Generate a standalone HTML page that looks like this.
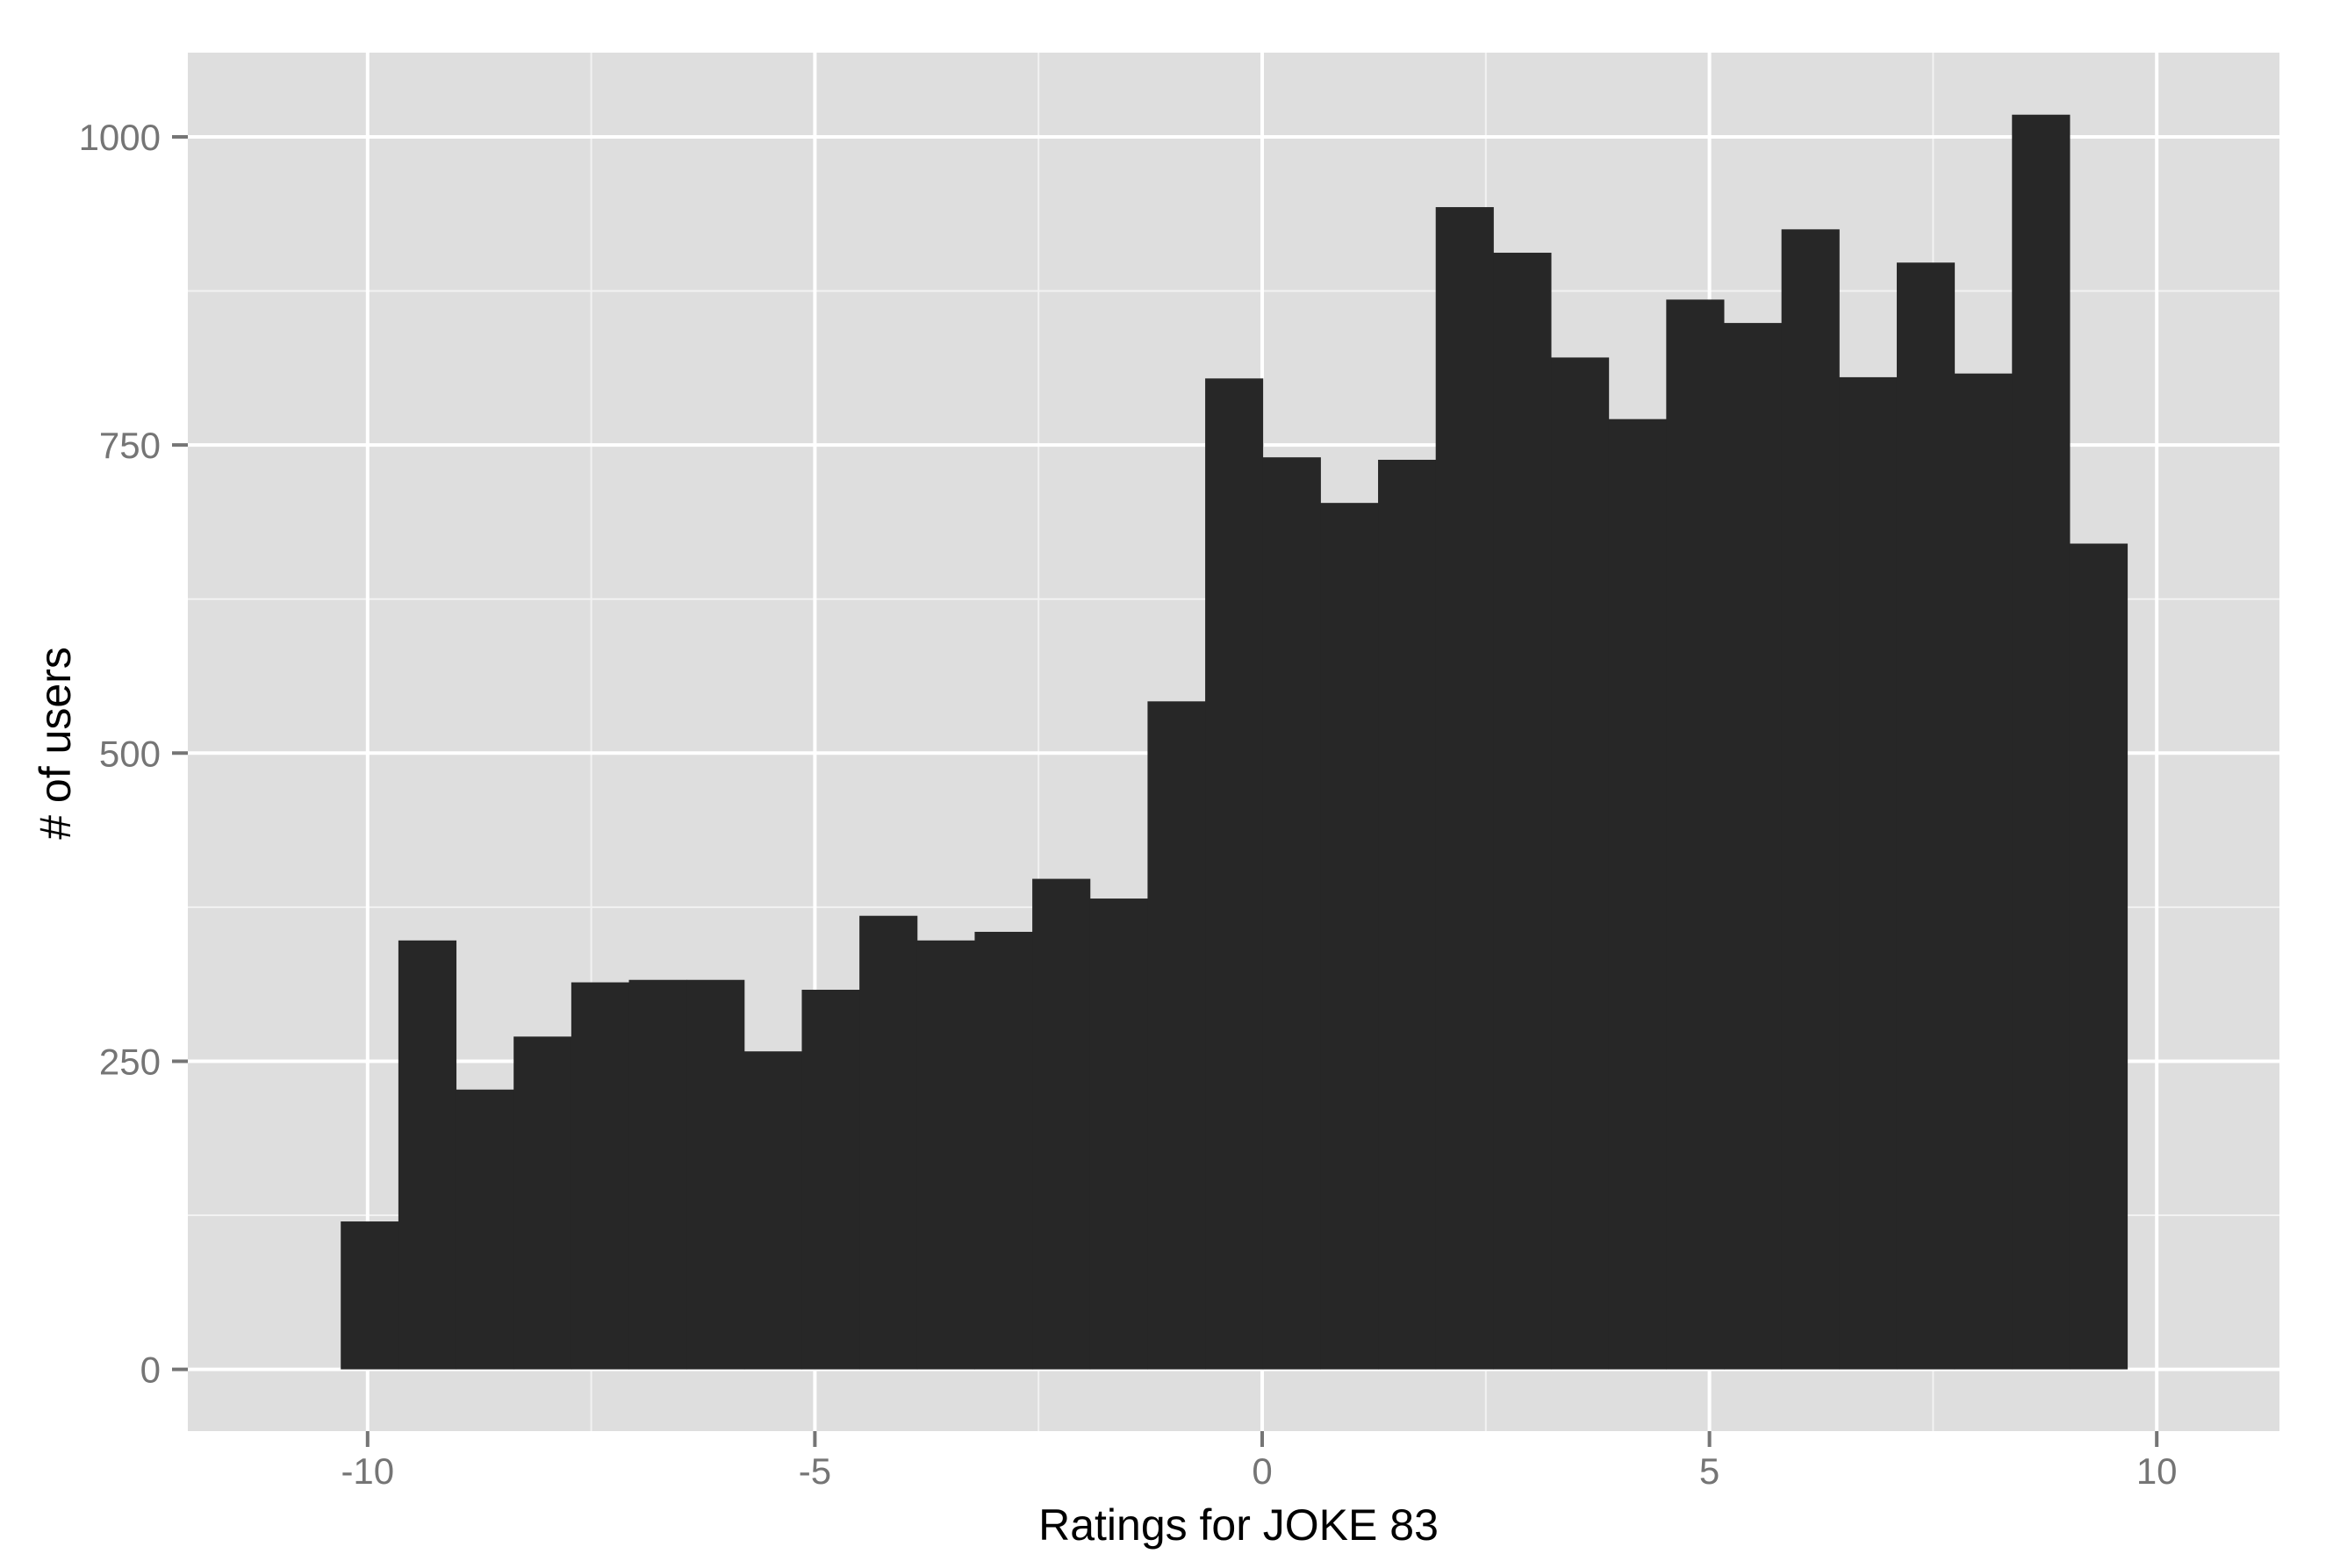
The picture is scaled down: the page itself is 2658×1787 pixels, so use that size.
<!DOCTYPE html>
<html><head><meta charset="utf-8"><style>
html,body{margin:0;padding:0;background:#fff}
svg{display:block}
text{font-family:"Liberation Sans",Arial,sans-serif}
</style></head><body>
<svg id="chart" width="2658" height="1787" viewBox="0 0 2658 1787" xmlns="http://www.w3.org/2000/svg">
<rect x="214" y="60" width="2383" height="1571" fill="#dedede"/>
<g id="grid"></g>
<g id="bars"></g>
<g id="axes"></g>
<text x="1411" y="1755" font-size="50" text-anchor="middle" fill="#000">Ratings for JOKE 83</text>
<text x="0" y="0" font-size="50" text-anchor="middle" fill="#000" transform="translate(80,847) rotate(-90)"># of users</text>
</svg>
<script>
const binStart = -10.30;
const binWidth = 0.6442;
const counts = [120,348,227,270,314,316,316,258,308,368,348,355,398,382,542,804,740,703,738,943,906,821,771,868,849,925,805,898,808,1018,670];
const xTicks = [-10,-5,0,5,10];
const xTickLabels = ["-10","-5","0","5","10"];
const xMinor = [-7.5,-2.5,2.5,7.5];
const yTicks = [0,250,500,750,1000];
const yTickLabels = ["0","250","500","750","1000"];
const yMinor = [125,375,625,875];

const NS = "http://www.w3.org/2000/svg";
const PL = 214, PR = 2597, PT = 60, PB = 1631;
function sx(v){ return 1438 + v * 101.92; }
function sy(v){ return 1560.6 - v * 1.4046; }
function mk(tag, attrs, parent){
  const e = document.createElementNS(NS, tag);
  for (const k in attrs) e.setAttribute(k, attrs[k]);
  parent.appendChild(e); return e;
}
const grid = document.getElementById('grid');
const bars = document.getElementById('bars');
const axes = document.getElementById('axes');

xMinor.forEach(v => {
  const l = mk('line', {x1:sx(v), x2:sx(v), y1:PT, y2:PB, stroke:'#f2f2f2', 'stroke-width':2}, grid);
  
  
});
yMinor.forEach(v => {
  const l = mk('line', {x1:PL, x2:PR, y1:sy(v), y2:sy(v), stroke:'#f2f2f2', 'stroke-width':2}, grid);
  
  
});
xTicks.forEach((v, i) => {
  const l = mk('line', {x1:sx(v), x2:sx(v), y1:PT, y2:PB, stroke:'#fff', 'stroke-width':4}, grid);
  
  
  const t = mk('line', {x1:sx(v), x2:sx(v), y1:PB, y2:PB+18, stroke:'#757575', 'stroke-width':4}, axes);
  
  
  const tx = mk('text', {x:sx(v), y:1691, 'font-size':42, 'text-anchor':'middle', fill:'#757575'}, axes);
  tx.textContent = xTickLabels[i];
  
  
});
yTicks.forEach((v, i) => {
  const l = mk('line', {x1:PL, x2:PR, y1:sy(v), y2:sy(v), stroke:'#fff', 'stroke-width':4}, grid);
  
  
  const t = mk('line', {x1:PL-18, x2:PL, y1:sy(v), y2:sy(v), stroke:'#757575', 'stroke-width':4}, axes);
  
  
  const tx = mk('text', {x:183, y:sy(v)+15, 'font-size':42, 'text-anchor':'end', fill:'#757575'}, axes);
  tx.textContent = yTickLabels[i];
  
  
});
counts.forEach((c, i) => {
  const x0 = sx(binStart + i * binWidth), x1 = sx(binStart + (i + 1) * binWidth);
  const r = mk('rect', {x:x0, y:sy(c), width:x1 - x0 + 0.5, height:sy(0) - sy(c), fill:'#272727'}, bars);
  
  
});
</script>
</body></html>
